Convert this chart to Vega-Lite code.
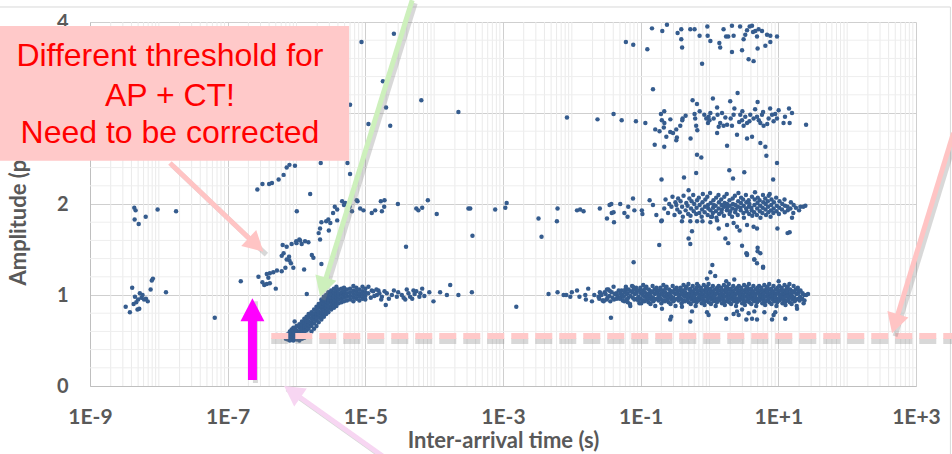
{
"$schema":"https://vega.github.io/schema/vega-lite/v6.json",
"width":826,"height":364,
"autosize":{"type":"none"},
"padding":{"left":90,"top":22,"right":36,"bottom":68},
"background":"white",
"config":{"view":{"stroke":null},"font":"Lato"},
"datasets":{
"minx":[{"t":2e-9},{"t":3e-9},{"t":4e-9},{"t":5e-9},{"t":6e-9},{"t":7e-9},{"t":8e-9},{"t":9e-9},{"t":1e-8},{"t":2e-8},{"t":3e-8},{"t":4e-8},{"t":5e-8},{"t":6e-8},{"t":7e-8},{"t":8e-8},{"t":9e-8},
{"t":2e-7},{"t":3e-7},{"t":4e-7},{"t":5e-7},{"t":6e-7},{"t":7e-7},{"t":8e-7},{"t":9e-7},{"t":1e-6},{"t":2e-6},{"t":3e-6},{"t":4e-6},{"t":5e-6},{"t":6e-6},{"t":7e-6},{"t":8e-6},{"t":9e-6},
{"t":2e-5},{"t":3e-5},{"t":4e-5},{"t":5e-5},{"t":6e-5},{"t":7e-5},{"t":8e-5},{"t":9e-5},{"t":1e-4},{"t":2e-4},{"t":3e-4},{"t":4e-4},{"t":5e-4},{"t":6e-4},{"t":7e-4},{"t":8e-4},{"t":9e-4},
{"t":0.002},{"t":0.003},{"t":0.004},{"t":0.005},{"t":0.006},{"t":0.007},{"t":0.008},{"t":0.009},{"t":0.01},{"t":0.02},{"t":0.03},{"t":0.04},{"t":0.05},{"t":0.06},{"t":0.07},{"t":0.08},{"t":0.09},
{"t":0.2},{"t":0.3},{"t":0.4},{"t":0.5},{"t":0.6},{"t":0.7},{"t":0.8},{"t":0.9},{"t":1},{"t":2},{"t":3},{"t":4},{"t":5},{"t":6},{"t":7},{"t":8},{"t":9},
{"t":20},{"t":30},{"t":40},{"t":50},{"t":60},{"t":70},{"t":80},{"t":90},{"t":100},{"t":200},{"t":300},{"t":400},{"t":500},{"t":600},{"t":700},{"t":800},{"t":900}],
"miny":[{"a":0.2},{"a":0.4},{"a":0.6},{"a":0.8},{"a":1.2},{"a":1.4},{"a":1.6},{"a":1.8},{"a":2.2},{"a":2.4},{"a":2.6},{"a":2.8},{"a":3.2},{"a":3.4},{"a":3.6},{"a":3.8}],
"pts":[
{"t":3.3e-9,"a":0.87},{"t":3.8e-9,"a":0.81},{"t":4.3e-9,"a":0.90},{"t":4.7e-9,"a":0.92},{"t":4.9e-9,"a":0.84},{"t":5.2e-9,"a":0.85},{"t":5.3e-9,"a":1.02},{"t":5.6e-9,"a":0.97},{"t":5.8e-9,"a":1.00},{"t":6.1e-9,"a":0.95},{"t":6.5e-9,"a":0.96},{"t":6.9e-9,"a":0.93},{"t":7.6e-9,"a":1.06},{"t":7.9e-9,"a":1.16},{"t":8.2e-9,"a":1.18},{"t":1.27e-8,"a":1.03},{"t":4.1e-9,"a":1.08},{"t":4.5e-9,"a":0.98},{"t":5.0e-9,"a":0.95},
{"t":4.4e-9,"a":1.96},{"t":4.6e-9,"a":1.93},{"t":4.45e-9,"a":1.83},{"t":5.1e-9,"a":1.78},{"t":6.45e-9,"a":1.86},{"t":9.6e-9,"a":1.94},{"t":1.78e-8,"a":1.92},{"t":6.5e-8,"a":0.75},{"t":1.55e-7,"a":1.15},
{"t":2.7e-7,"a":2.16},{"t":3.2e-7,"a":2.22},{"t":4.0e-7,"a":2.22},{"t":4.4e-7,"a":2.23},{"t":5.5e-7,"a":2.27},{"t":6.5e-7,"a":2.32},{"t":7.2e-7,"a":2.40},{"t":7.9e-7,"a":2.43},{"t":9.5e-7,"a":2.42},{"t":1.01e-6,"a":1.92},
{"t":6.3e-7,"a":1.55},{"t":8.5e-7,"a":1.56},{"t":9.9e-7,"a":1.59},{"t":1.1e-6,"a":1.61},{"t":6.1e-7,"a":1.43},{"t":7.2e-7,"a":1.39},{"t":7.8e-7,"a":1.42},{"t":8.3e-7,"a":1.35},{"t":9.0e-7,"a":1.30},{"t":6.9e-7,"a":1.30},{"t":6.1e-7,"a":1.26},{"t":5.2e-7,"a":1.27},{"t":4.6e-7,"a":1.25},{"t":4.1e-7,"a":1.24},{"t":3.7e-7,"a":1.23},{"t":2.8e-7,"a":1.20},{"t":3.2e-7,"a":1.14},{"t":3.4e-7,"a":1.11},{"t":3.7e-7,"a":1.12},{"t":4.1e-7,"a":1.13},{"t":3.9e-7,"a":1.19},{"t":5.0e-7,"a":1.07},{"t":9.4e-7,"a":0.71},{"t":5.2e-7,"a":0.56},
{"t":3.6e-6,"a":1.97},{"t":3.9e-6,"a":1.94},{"t":4.6e-6,"a":2.03},{"t":4.9e-6,"a":1.99},{"t":3.4e-6,"a":1.90},{"t":2.9e-6,"a":1.83},{"t":2.7e-6,"a":1.81},{"t":2.3e-6,"a":1.80},{"t":3.1e-6,"a":1.79},{"t":3.9e-6,"a":1.82},{"t":2.2e-6,"a":1.73},{"t":2.1e-6,"a":1.68},{"t":2.95e-6,"a":1.71},{"t":2.2e-6,"a":1.61},{"t":1.33e-6,"a":1.59},{"t":1.13e-6,"a":1.60},{"t":1.49e-6,"a":1.58},{"t":1.19e-6,"a":1.56},{"t":1.0e-6,"a":1.57},{"t":7.2e-7,"a":1.53},{"t":6.5e-7,"a":1.46},{"t":1.67e-6,"a":1.44},{"t":1.76e-6,"a":1.41},{"t":2.3e-6,"a":1.34},{"t":1.29e-6,"a":1.28},{"t":7.9e-7,"a":1.38},{"t":3.9e-5,"a":1.53},
{"t":7.5e-6,"a":2.04},{"t":7.7e-6,"a":2.03},{"t":8.4e-6,"a":1.95},{"t":9.4e-6,"a":1.93},{"t":6.4e-6,"a":1.92},{"t":5.9e-6,"a":1.97},{"t":5.1e-6,"a":2.01},{"t":1.24e-5,"a":1.90},{"t":1.39e-5,"a":1.93},{"t":1.74e-5,"a":1.92},{"t":1.88e-5,"a":1.97},{"t":1.68e-5,"a":2.03},{"t":1.9e-5,"a":2.04},{"t":2.97e-5,"a":2.00},{"t":5.5e-5,"a":1.95},{"t":5.9e-5,"a":1.93},{"t":6.7e-5,"a":1.96},{"t":8.1e-5,"a":2.04},{"t":1.09e-4,"a":1.89},{"t":3.15e-4,"a":1.95},
{"t":2.6e-5,"a":3.87},{"t":8.8e-6,"a":3.78},{"t":1.8e-5,"a":3.35},{"t":6.5e-5,"a":3.14},{"t":2.0e-5,"a":3.06},{"t":1.11e-5,"a":2.88},{"t":2.3e-5,"a":2.86},{"t":6.0e-6,"a":3.09},{"t":2.25e-4,"a":3.01},{"t":5.5e-6,"a":2.45},{"t":6.0e-6,"a":2.33},{"t":2.25e-6,"a":2.45},{"t":1.58e-6,"a":2.11},
{"t":7.0e-7,"a":0.52},{"t":7.0e-7,"a":0.55},
{"t":7.5e-7,"a":0.51},{"t":7.5e-7,"a":0.54},{"t":7.5e-7,"a":0.57},
{"t":8.0e-7,"a":0.50},{"t":8.0e-7,"a":0.53},{"t":8.0e-7,"a":0.56},{"t":8.0e-7,"a":0.60},
{"t":8.5e-7,"a":0.51},{"t":8.5e-7,"a":0.55},{"t":8.5e-7,"a":0.58},{"t":8.5e-7,"a":0.62},
{"t":9.0e-7,"a":0.50},{"t":9.0e-7,"a":0.53},{"t":9.0e-7,"a":0.57},{"t":9.0e-7,"a":0.60},{"t":9.0e-7,"a":0.64},
{"t":9.5e-7,"a":0.52},{"t":9.5e-7,"a":0.55},{"t":9.5e-7,"a":0.59},{"t":9.5e-7,"a":0.63},
{"t":1.0e-6,"a":0.51},{"t":1.0e-6,"a":0.54},{"t":1.0e-6,"a":0.58},{"t":1.0e-6,"a":0.61},{"t":1.0e-6,"a":0.66},
{"t":1.1e-6,"a":0.50},{"t":1.1e-6,"a":0.53},{"t":1.1e-6,"a":0.57},{"t":1.1e-6,"a":0.60},{"t":1.1e-6,"a":0.64},{"t":1.1e-6,"a":0.68},
{"t":1.2e-6,"a":0.52},{"t":1.2e-6,"a":0.56},{"t":1.2e-6,"a":0.60},{"t":1.2e-6,"a":0.63},{"t":1.2e-6,"a":0.67},{"t":1.2e-6,"a":0.71},
{"t":1.3e-6,"a":0.53},{"t":1.3e-6,"a":0.58},{"t":1.3e-6,"a":0.62},{"t":1.3e-6,"a":0.66},{"t":1.3e-6,"a":0.70},{"t":1.3e-6,"a":0.74},
{"t":1.4e-6,"a":0.55},{"t":1.4e-6,"a":0.61},{"t":1.4e-6,"a":0.65},{"t":1.4e-6,"a":0.69},{"t":1.4e-6,"a":0.72},{"t":1.4e-6,"a":0.76},
{"t":1.5e-6,"a":0.56},{"t":1.5e-6,"a":0.63},{"t":1.5e-6,"a":0.67},{"t":1.5e-6,"a":0.71},{"t":1.5e-6,"a":0.75},{"t":1.5e-6,"a":0.79},
{"t":1.65e-6,"a":0.60},{"t":1.65e-6,"a":0.66},{"t":1.65e-6,"a":0.70},{"t":1.65e-6,"a":0.74},{"t":1.65e-6,"a":0.78},{"t":1.65e-6,"a":0.81},
{"t":1.8e-6,"a":0.63},{"t":1.8e-6,"a":0.69},{"t":1.8e-6,"a":0.73},{"t":1.8e-6,"a":0.77},{"t":1.8e-6,"a":0.80},{"t":1.8e-6,"a":0.84},
{"t":1.95e-6,"a":0.66},{"t":1.95e-6,"a":0.72},{"t":1.95e-6,"a":0.76},{"t":1.95e-6,"a":0.80},{"t":1.95e-6,"a":0.83},{"t":1.95e-6,"a":0.87},
{"t":2.1e-6,"a":0.70},{"t":2.1e-6,"a":0.75},{"t":2.1e-6,"a":0.79},{"t":2.1e-6,"a":0.82},{"t":2.1e-6,"a":0.86},{"t":2.1e-6,"a":0.90},
{"t":2.3e-6,"a":0.73},{"t":2.3e-6,"a":0.77},{"t":2.3e-6,"a":0.81},{"t":2.3e-6,"a":0.85},{"t":2.3e-6,"a":0.88},{"t":2.3e-6,"a":0.92},{"t":2.3e-6,"a":0.95},
{"t":2.5e-6,"a":0.76},{"t":2.5e-6,"a":0.80},{"t":2.5e-6,"a":0.84},{"t":2.5e-6,"a":0.87},{"t":2.5e-6,"a":0.90},{"t":2.5e-6,"a":0.94},{"t":2.5e-6,"a":0.98},
{"t":2.7e-6,"a":0.79},{"t":2.7e-6,"a":0.82},{"t":2.7e-6,"a":0.86},{"t":2.7e-6,"a":0.89},{"t":2.7e-6,"a":0.93},{"t":2.7e-6,"a":0.96},{"t":2.7e-6,"a":1.00},
{"t":2.9e-6,"a":0.81},{"t":2.9e-6,"a":0.85},{"t":2.9e-6,"a":0.88},{"t":2.9e-6,"a":0.92},{"t":2.9e-6,"a":0.95},{"t":2.9e-6,"a":0.99},{"t":2.9e-6,"a":1.03},
{"t":3.2e-6,"a":0.84},{"t":3.2e-6,"a":0.87},{"t":3.2e-6,"a":0.90},{"t":3.2e-6,"a":0.94},{"t":3.2e-6,"a":0.97},{"t":3.2e-6,"a":1.01},{"t":3.2e-6,"a":1.05},
{"t":3.5e-6,"a":0.86},{"t":3.5e-6,"a":0.88},{"t":3.5e-6,"a":0.92},{"t":3.5e-6,"a":0.96},{"t":3.5e-6,"a":0.99},{"t":3.5e-6,"a":1.03},{"t":3.5e-6,"a":1.07},
{"t":3.8e-6,"a":0.88},{"t":3.8e-6,"a":0.90},{"t":3.8e-6,"a":0.94},{"t":3.8e-6,"a":0.97},{"t":3.8e-6,"a":1.01},{"t":3.8e-6,"a":1.05},{"t":3.8e-6,"a":1.09},
{"t":4.1e-6,"a":0.91},{"t":4.1e-6,"a":0.95},{"t":4.1e-6,"a":0.99},{"t":4.1e-6,"a":1.02},{"t":4.1e-6,"a":1.06},
{"t":4.5e-6,"a":0.92},{"t":4.5e-6,"a":0.96},{"t":4.5e-6,"a":1.00},{"t":4.5e-6,"a":1.03},{"t":4.5e-6,"a":1.07},
{"t":4.9e-6,"a":0.93},{"t":4.9e-6,"a":0.97},{"t":4.9e-6,"a":1.01},{"t":4.9e-6,"a":1.04},{"t":4.9e-6,"a":1.08},
{"t":5.4e-6,"a":0.94},{"t":5.4e-6,"a":0.98},{"t":5.4e-6,"a":1.02},{"t":5.4e-6,"a":1.06},
{"t":6.0e-6,"a":0.95},{"t":6.0e-6,"a":0.99},{"t":6.0e-6,"a":1.03},{"t":6.0e-6,"a":1.07},
{"t":6.7e-6,"a":0.93},{"t":6.7e-6,"a":0.97},{"t":6.7e-6,"a":1.01},{"t":6.7e-6,"a":1.05},{"t":6.7e-6,"a":1.10},
{"t":7.4e-6,"a":0.96},{"t":7.4e-6,"a":1.00},{"t":7.4e-6,"a":1.04},{"t":7.4e-6,"a":1.08},
{"t":8.2e-6,"a":0.94},{"t":8.2e-6,"a":0.98},{"t":8.2e-6,"a":1.02},{"t":8.2e-6,"a":1.06},
{"t":9.1e-6,"a":0.96},{"t":9.1e-6,"a":1.00},{"t":9.1e-6,"a":1.04},{"t":9.1e-6,"a":1.09},
{"t":1.0e-5,"a":0.95},{"t":1.0e-5,"a":0.99},{"t":1.0e-5,"a":1.03},{"t":1.0e-5,"a":1.07},
{"t":1.11e-5,"a":1.09},{"t":1.24e-5,"a":1.05},{"t":1.47e-5,"a":1.00},{"t":1.74e-5,"a":0.98},{"t":1.98e-5,"a":0.89},{"t":2.05e-5,"a":1.02},{"t":2.43e-5,"a":1.00},{"t":2.87e-5,"a":0.98},{"t":3.39e-5,"a":1.00},{"t":4.23e-5,"a":1.02},{"t":4.47e-5,"a":0.98},{"t":5.0e-5,"a":1.05},{"t":5.5e-5,"a":1.04},{"t":6.1e-5,"a":0.98},{"t":6.7e-5,"a":1.07},{"t":9.77e-5,"a":0.93},{"t":1.22e-4,"a":1.03},{"t":1.53e-4,"a":1.00},{"t":1.71e-4,"a":1.11},{"t":2.25e-4,"a":1.00},{"t":3.8e-5,"a":0.95},{"t":1.55e-5,"a":1.05},{"t":1.41e-6,"a":1.01},
{"t":1.1e-5,"a":1.02},{"t":1.2e-5,"a":0.97},{"t":1.3e-5,"a":1.04},{"t":1.35e-5,"a":0.99},{"t":1.45e-5,"a":1.06},{"t":1.6e-5,"a":1.02},{"t":1.7e-5,"a":0.95},{"t":1.9e-5,"a":1.04},{"t":2.2e-5,"a":0.96},{"t":2.6e-5,"a":1.05},{"t":3.0e-5,"a":1.03},{"t":3.6e-5,"a":0.97},{"t":4.0e-5,"a":1.06},{"t":4.8e-5,"a":0.96},{"t":5.2e-5,"a":1.01},{"t":6.3e-5,"a":1.02},{"t":7.2e-5,"a":0.99},{"t":8.5e-5,"a":1.03},
{"t":3.53e-4,"a":1.03},{"t":1.56e-3,"a":0.87},{"t":4.59e-3,"a":1.01},{"t":6.2e-3,"a":1.03},{"t":7.6e-3,"a":1.00},{"t":8.3e-3,"a":1.00},{"t":9.5e-3,"a":0.98},{"t":1.0e-2,"a":1.03},{"t":1.19e-2,"a":1.05},{"t":1.29e-2,"a":0.98},{"t":1.57e-2,"a":1.00},{"t":1.73e-2,"a":1.07},{"t":1.6e-2,"a":0.95},{"t":1.96e-2,"a":0.93},{"t":2.12e-2,"a":1.00},{"t":2.44e-2,"a":0.98},{"t":2.55e-2,"a":1.03},{"t":2.89e-2,"a":0.94},{"t":3.24e-2,"a":1.06},{"t":3.62e-2,"a":0.93},{"t":3.7e-2,"a":0.75},{"t":4.04e-2,"a":1.09},{"t":4.52e-2,"a":1.00},{"t":5.05e-2,"a":1.04},{"t":5.3e-2,"a":0.98},{"t":5.97e-2,"a":1.06},{"t":6.45e-2,"a":1.02},{"t":7.07e-2,"a":0.88},{"t":7.74e-2,"a":1.09},{"t":7.9e-2,"a":1.36},{"t":8.8e-2,"a":1.04},{"t":9.6e-2,"a":0.91},
{"t":3.34e-4,"a":1.95},{"t":3.6e-4,"a":1.65},{"t":7.7e-4,"a":1.94},{"t":1.08e-3,"a":1.96},{"t":1.13e-3,"a":2.01},{"t":3.28e-3,"a":1.84},{"t":3.63e-3,"a":1.64},{"t":6.07e-3,"a":1.81},{"t":6.2e-3,"a":1.95},{"t":1.19e-2,"a":1.93},{"t":1.32e-2,"a":1.94},{"t":1.48e-2,"a":1.92},{"t":2.55e-2,"a":1.95},{"t":3.24e-2,"a":1.84},{"t":3.53e-2,"a":1.99},{"t":3.75e-2,"a":2.00},{"t":3.8e-2,"a":1.90},{"t":4.04e-2,"a":1.91},{"t":4.1e-2,"a":1.80},{"t":5.05e-2,"a":2.00},{"t":5.8e-2,"a":1.90},{"t":6.45e-2,"a":1.86},{"t":6.6e-2,"a":1.97},{"t":7.74e-2,"a":2.06},{"t":8.1e-2,"a":1.93},{"t":0.104,"a":1.93},{"t":0.106,"a":1.89},{"t":0.135,"a":2.04},{"t":0.151,"a":1.99},{"t":0.169,"a":1.88},{"t":0.186,"a":1.55},{"t":0.201,"a":2.27},{"t":0.199,"a":1.81},{"t":0.203,"a":1.82},
{"t":8.5e-3,"a":2.95},{"t":2.36e-2,"a":2.93},{"t":4.04e-2,"a":2.99},{"t":5.3e-2,"a":2.92},{"t":8.54e-2,"a":2.91},{"t":0.117,"a":2.89},{"t":0.151,"a":3.26},{"t":0.163,"a":2.82},{"t":0.16,"a":2.65},{"t":0.188,"a":2.80},{"t":0.197,"a":2.99},{"t":0.203,"a":2.92},{"t":0.22,"a":3.02},{"t":0.217,"a":2.84},{"t":0.221,"a":2.89},{"t":0.22,"a":2.63},{"t":0.236,"a":2.74},{"t":0.269,"a":2.79},{"t":0.295,"a":2.78},{"t":0.329,"a":2.82},{"t":0.336,"a":2.73},{"t":0.329,"a":2.70},{"t":0.376,"a":2.86},{"t":0.406,"a":2.94},{"t":0.402,"a":2.92},{"t":0.531,"a":2.72},{"t":0.568,"a":3.14},{"t":0.607,"a":2.99},{"t":0.62,"a":2.94},{"t":0.658,"a":3.10},{"t":0.64,"a":2.86},{"t":0.665,"a":2.81},{"t":0.658,"a":2.54},{"t":0.76,"a":2.51},{"t":0.84,"a":2.98},{"t":0.898,"a":2.94},{"t":0.97,"a":2.96},{"t":0.95,"a":2.89},{"t":1.03,"a":3.00},{"t":1.12,"a":3.16},{"t":1.15,"a":2.94},{"t":1.29,"a":3.06},{"t":1.31,"a":2.98},{"t":1.36,"a":2.85},{"t":1.43,"a":2.89},{"t":1.52,"a":3.00},{"t":1.60,"a":2.86},{"t":1.80,"a":2.87},{"t":2.0,"a":3.13},{"t":2.03,"a":2.94},{"t":2.12,"a":2.86},{"t":2.24,"a":2.98},{"t":2.56,"a":3.22},{"t":2.80,"a":2.98},{"t":2.97,"a":2.92},{"t":3.13,"a":2.86},{"t":3.31,"a":2.96},{"t":3.51,"a":2.89},{"t":3.91,"a":2.98},{"t":4.37,"a":2.94},{"t":5.0,"a":3.12},{"t":4.9,"a":2.96},{"t":5.48,"a":2.89},{"t":5.79,"a":2.98},{"t":6.11,"a":2.86},{"t":6.48,"a":2.63},{"t":6.7,"a":2.53},{"t":7.23,"a":2.94},{"t":8.1,"a":2.98},{"t":8.54,"a":2.91},{"t":9.57,"a":2.94},{"t":10.1,"a":3.03},{"t":11.9,"a":2.89},{"t":14.6,"a":2.89},{"t":14.3,"a":3.05},{"t":15.8,"a":3.00},{"t":25.3,"a":2.87},{"t":5.48,"a":2.67},{"t":4.15,"a":2.74},{"t":2.51,"a":2.76},{"t":1.8,"a":2.64},{"t":3.51,"a":2.72},{"t":1.29,"a":2.78},{"t":0.78,"a":3.54},
{"t":1.7,"a":2.95},{"t":2.3,"a":3.05},{"t":2.7,"a":2.90},{"t":3.0,"a":3.02},{"t":3.8,"a":2.91},{"t":4.6,"a":3.04},{"t":5.2,"a":2.92},{"t":6.0,"a":3.01},{"t":6.9,"a":2.88},{"t":7.6,"a":3.05},{"t":9.0,"a":2.99},{"t":12.5,"a":2.96},{"t":1.0,"a":2.92},{"t":0.72,"a":3.02},{"t":0.45,"a":2.97},{"t":0.27,"a":2.93},
{"t":6.1e-2,"a":3.78},{"t":7.8e-2,"a":3.75},{"t":0.125,"a":3.70},{"t":0.146,"a":3.93},{"t":0.206,"a":3.90},{"t":0.241,"a":3.97},{"t":0.344,"a":3.88},{"t":0.389,"a":3.92},{"t":0.389,"a":3.81},{"t":0.40,"a":3.72},{"t":0.526,"a":3.92},{"t":0.607,"a":3.92},{"t":0.718,"a":3.85},{"t":0.93,"a":3.95},{"t":0.94,"a":3.85},{"t":1.03,"a":3.79},{"t":1.39,"a":3.77},{"t":1.43,"a":3.72},{"t":1.60,"a":3.92},{"t":1.74,"a":3.84},{"t":1.87,"a":3.84},{"t":2.12,"a":3.96},{"t":2.12,"a":3.67},{"t":2.24,"a":3.85},{"t":2.78,"a":3.95},{"t":2.97,"a":3.69},{"t":3.13,"a":3.81},{"t":3.31,"a":3.86},{"t":3.51,"a":3.91},{"t":3.70,"a":3.59},{"t":3.83,"a":3.95},{"t":4.15,"a":3.96},{"t":4.29,"a":3.89},{"t":4.37,"a":3.57},{"t":4.63,"a":3.90},{"t":4.9,"a":3.84},{"t":5.0,"a":3.71},{"t":5.17,"a":3.92},{"t":5.79,"a":3.90},{"t":6.48,"a":3.74},{"t":6.85,"a":3.86},{"t":7.65,"a":3.78},{"t":7.65,"a":3.85},{"t":9.57,"a":3.84},
{"t":0.398,"a":1.81},{"t":0.497,"a":2.15},{"t":0.426,"a":2.29},{"t":0.64,"a":2.34},{"t":0.557,"a":1.70},{"t":0.497,"a":1.62},{"t":0.526,"a":1.56},{"t":1.03,"a":1.80},{"t":1.36,"a":1.73},{"t":1.70,"a":1.62},{"t":1.87,"a":1.57},{"t":1.94,"a":2.37},{"t":2.20,"a":2.28},{"t":3.2,"a":2.35},{"t":2.97,"a":1.54},{"t":3.51,"a":1.45},{"t":4.48,"a":1.39},{"t":5.0,"a":1.52},{"t":5.48,"a":1.46},{"t":6.0,"a":1.30},{"t":7.5,"a":2.11},{"t":8.4,"a":2.27},{"t":9.57,"a":2.45},{"t":9.7,"a":1.73},{"t":13.6,"a":1.68},{"t":14.6,"a":1.69},{"t":15.8,"a":1.85},{"t":20.9,"a":1.97},{"t":24.7,"a":1.98},{"t":2.51,"a":1.75},{"t":4.37,"a":1.75},{"t":4.9,"a":1.73},{"t":3.51,"a":1.77},{"t":2.24,"a":1.79},{"t":1.8,"a":1.77},{"t":2.74,"a":1.71},{"t":1.29,"a":1.82},{"t":1.09,"a":1.86},{"t":0.79,"a":1.81},{"t":0.66,"a":1.81},{"t":0.526,"a":1.81},
{"t":0.22,"a":1.95},{"t":0.23,"a":2.05},{"t":0.25,"a":1.90},{"t":0.26,"a":2.00},{"t":0.28,"a":1.97},{"t":0.29,"a":2.08},{"t":0.31,"a":1.88},{"t":0.32,"a":2.02},{"t":0.34,"a":1.94},{"t":0.35,"a":2.06},{"t":0.33,"a":1.99},{"t":0.37,"a":1.91},{"t":0.38,"a":2.03},{"t":0.41,"a":1.86},{"t":0.40,"a":1.97},{"t":0.42,"a":2.09},{"t":0.45,"a":1.93},{"t":0.46,"a":2.01},{"t":0.49,"a":1.89},{"t":0.48,"a":1.98},{"t":0.51,"a":2.06},{"t":0.54,"a":1.95},{"t":0.55,"a":2.03},{"t":0.53,"a":1.87},{"t":0.59,"a":1.92},{"t":0.60,"a":2.00},{"t":0.58,"a":2.10},{"t":0.65,"a":1.96},{"t":0.66,"a":2.04},{"t":0.64,"a":1.89},{"t":0.71,"a":1.90},{"t":0.72,"a":1.99},{"t":0.70,"a":2.07},{"t":0.78,"a":1.94},{"t":0.79,"a":2.02},{"t":0.77,"a":1.86},{"t":0.80,"a":2.11},{"t":0.86,"a":1.97},{"t":0.87,"a":2.05},{"t":0.85,"a":1.91},{"t":0.94,"a":1.88},{"t":0.95,"a":1.99},{"t":0.93,"a":2.08},{"t":0.96,"a":1.95},
{"t":1.03,"a":1.93},{"t":1.04,"a":2.01},{"t":1.02,"a":2.12},{"t":1.05,"a":1.86},{"t":1.13,"a":1.96},{"t":1.14,"a":2.04},{"t":1.12,"a":1.90},{"t":1.15,"a":1.99},{"t":1.24,"a":1.92},{"t":1.25,"a":2.07},{"t":1.23,"a":1.98},{"t":1.26,"a":1.85},{"t":1.36,"a":1.95},{"t":1.37,"a":2.02},{"t":1.35,"a":2.10},{"t":1.38,"a":1.89},{"t":1.49,"a":1.91},{"t":1.50,"a":1.99},{"t":1.48,"a":2.05},{"t":1.51,"a":1.94},{"t":1.63,"a":1.97},{"t":1.64,"a":2.08},{"t":1.62,"a":1.87},{"t":1.66,"a":2.01},{"t":1.79,"a":1.93},{"t":1.80,"a":2.00},{"t":1.78,"a":2.11},{"t":1.82,"a":1.96},{"t":1.96,"a":1.89},{"t":1.97,"a":1.98},{"t":1.95,"a":2.04},{"t":1.99,"a":1.92},{"t":2.15,"a":1.95},{"t":2.17,"a":2.06},{"t":2.13,"a":1.86},{"t":2.19,"a":2.00},{"t":2.36,"a":1.91},{"t":2.38,"a":1.99},{"t":2.34,"a":2.09},{"t":2.40,"a":1.94},{"t":2.59,"a":1.97},{"t":2.61,"a":2.03},{"t":2.57,"a":1.88},{"t":2.63,"a":2.12},{"t":2.84,"a":1.93},{"t":2.86,"a":2.01},{"t":2.82,"a":1.96},{"t":2.88,"a":2.07},
{"t":3.11,"a":1.90},{"t":3.14,"a":1.98},{"t":3.08,"a":2.05},{"t":3.16,"a":1.85},{"t":3.41,"a":1.95},{"t":3.44,"a":2.02},{"t":3.38,"a":2.10},{"t":3.47,"a":1.92},{"t":3.74,"a":1.97},{"t":3.77,"a":1.89},{"t":3.71,"a":2.04},{"t":3.80,"a":2.00},{"t":4.1,"a":1.93},{"t":4.14,"a":2.08},{"t":4.06,"a":1.96},{"t":4.18,"a":1.87},{"t":4.5,"a":1.99},{"t":4.54,"a":2.05},{"t":4.46,"a":1.91},{"t":4.58,"a":2.13},{"t":4.93,"a":1.95},{"t":4.98,"a":2.01},{"t":4.88,"a":1.88},{"t":5.03,"a":2.07},{"t":5.4,"a":1.92},{"t":5.45,"a":1.98},{"t":5.35,"a":2.04},{"t":5.5,"a":1.85},{"t":5.92,"a":1.96},{"t":5.98,"a":2.10},{"t":5.86,"a":1.90},{"t":6.04,"a":2.02},{"t":6.5,"a":1.94},{"t":6.56,"a":2.00},{"t":6.44,"a":2.06},{"t":6.62,"a":1.88},{"t":7.1,"a":1.97},{"t":7.17,"a":1.91},{"t":7.03,"a":2.03},{"t":7.24,"a":2.09},{"t":7.8,"a":1.93},{"t":7.88,"a":1.99},{"t":7.72,"a":1.86},{"t":7.96,"a":2.05},
{"t":8.55,"a":1.95},{"t":8.64,"a":2.02},{"t":8.46,"a":1.90},{"t":9.4,"a":1.92},{"t":9.5,"a":1.98},{"t":9.3,"a":2.07},{"t":10.3,"a":1.96},{"t":10.4,"a":2.03},{"t":10.2,"a":1.89},{"t":11.3,"a":1.94},{"t":11.4,"a":2.00},{"t":12.4,"a":1.91},{"t":12.5,"a":1.98},{"t":12.3,"a":2.05},{"t":13.6,"a":1.97},{"t":13.7,"a":1.93},{"t":15,"a":1.95},{"t":15.2,"a":2.02},{"t":16.5,"a":1.90},{"t":16.7,"a":1.99},{"t":18,"a":1.96},{"t":20,"a":1.93},{"t":23,"a":1.97},
{"t":0.204,"a":0.85},{"t":0.269,"a":0.73},{"t":0.278,"a":0.76},{"t":0.398,"a":0.87},{"t":0.526,"a":0.71},{"t":0.557,"a":0.82},{"t":0.92,"a":0.81},{"t":0.97,"a":0.78},{"t":1.75,"a":0.74},{"t":2.24,"a":0.79},{"t":2.51,"a":0.82},{"t":2.65,"a":0.78},{"t":2.97,"a":0.84},{"t":3.43,"a":0.73},{"t":3.70,"a":0.80},{"t":4.15,"a":0.74},{"t":4.48,"a":0.82},{"t":4.9,"a":0.73},{"t":6.27,"a":0.81},{"t":8.1,"a":0.73},{"t":8.54,"a":0.78},{"t":9.04,"a":0.81},{"t":12.6,"a":0.74},{"t":18.7,"a":0.85},{"t":23.3,"a":0.91},
{"t":0.92,"a":1.18},{"t":1.03,"a":1.25},{"t":1.10,"a":1.33},{"t":1.21,"a":1.21},{"t":1.75,"a":1.15},{"t":2.29,"a":1.17},{"t":3.43,"a":1.46},{"t":3.51,"a":1.44},{"t":4.48,"a":1.39},{"t":4.9,"a":1.35},{"t":5.0,"a":1.48},{"t":6.0,"a":1.31},{"t":10.1,"a":1.15},{"t":0.66,"a":1.12},
{"t":0.025,"a":0.96},{"t":0.026,"a":1.02},{"t":0.027,"a":1.00},{"t":0.028,"a":0.94},{"t":0.029,"a":0.93},{"t":0.030,"a":1.03},{"t":0.031,"a":1.01},{"t":0.032,"a":0.95},{"t":0.033,"a":0.97},{"t":0.034,"a":1.06},{"t":0.035,"a":0.99},{"t":0.036,"a":1.04},{"t":0.038,"a":1.03},{"t":0.039,"a":0.97},{"t":0.041,"a":0.95},{"t":0.042,"a":1.01},{"t":0.044,"a":1.02},{"t":0.045,"a":0.96},{"t":0.047,"a":0.98},{"t":0.048,"a":1.05},{"t":0.05,"a":0.96},{"t":0.051,"a":1.02},
{"t":0.054,"a":1.00},{"t":0.055,"a":0.94},{"t":0.053,"a":1.05},{"t":0.058,"a":0.93},{"t":0.059,"a":1.03},{"t":0.057,"a":0.98},{"t":0.062,"a":1.01},{"t":0.063,"a":0.95},{"t":0.061,"a":1.09},{"t":0.066,"a":0.97},{"t":0.067,"a":1.06},{"t":0.065,"a":0.92},{"t":0.071,"a":0.99},{"t":0.072,"a":1.04},{"t":0.070,"a":0.90},{"t":0.076,"a":1.03},{"t":0.077,"a":0.97},{"t":0.075,"a":1.10},{"t":0.081,"a":0.95},{"t":0.082,"a":1.01},{"t":0.080,"a":1.06},{"t":0.087,"a":1.02},{"t":0.088,"a":0.96},{"t":0.086,"a":1.08},{"t":0.093,"a":0.98},{"t":0.094,"a":1.05},{"t":0.092,"a":0.94},
{"t":0.1,"a":0.96},{"t":0.101,"a":1.02},{"t":0.099,"a":1.08},{"t":0.102,"a":0.91},{"t":0.107,"a":1.00},{"t":0.108,"a":0.94},{"t":0.106,"a":1.05},{"t":0.109,"a":1.11},{"t":0.114,"a":0.93},{"t":0.115,"a":1.03},{"t":0.113,"a":0.98},{"t":0.116,"a":1.07},{"t":0.122,"a":1.01},{"t":0.123,"a":0.95},{"t":0.121,"a":1.09},{"t":0.124,"a":0.99},{"t":0.131,"a":0.97},{"t":0.132,"a":1.06},{"t":0.13,"a":0.92},{"t":0.133,"a":1.02},{"t":0.14,"a":0.99},{"t":0.141,"a":1.04},{"t":0.139,"a":0.90},{"t":0.142,"a":0.95},{"t":0.15,"a":1.03},{"t":0.151,"a":0.97},{"t":0.149,"a":1.10},{"t":0.153,"a":0.93},{"t":0.16,"a":0.95},{"t":0.161,"a":1.01},{"t":0.159,"a":1.06},{"t":0.163,"a":0.88},{"t":0.171,"a":1.02},{"t":0.172,"a":0.96},{"t":0.17,"a":1.08},{"t":0.174,"a":1.04},{"t":0.183,"a":0.98},{"t":0.184,"a":1.05},{"t":0.182,"a":0.94},{"t":0.186,"a":1.00},
{"t":0.196,"a":0.96},{"t":0.198,"a":1.02},{"t":0.194,"a":1.08},{"t":0.2,"a":0.91},{"t":0.21,"a":1.00},{"t":0.212,"a":0.94},{"t":0.208,"a":1.05},{"t":0.214,"a":1.11},{"t":0.225,"a":0.93},{"t":0.227,"a":1.03},{"t":0.223,"a":0.98},{"t":0.229,"a":1.07},{"t":0.24,"a":1.01},{"t":0.242,"a":0.95},{"t":0.238,"a":1.09},{"t":0.245,"a":0.99},{"t":0.257,"a":0.97},{"t":0.26,"a":1.06},{"t":0.255,"a":0.92},{"t":0.262,"a":1.02},{"t":0.275,"a":0.99},{"t":0.278,"a":1.04},{"t":0.272,"a":0.90},{"t":0.28,"a":0.95},{"t":0.295,"a":1.03},{"t":0.298,"a":0.97},{"t":0.292,"a":1.10},{"t":0.3,"a":0.93},{"t":0.315,"a":0.95},{"t":0.318,"a":1.01},{"t":0.312,"a":1.06},{"t":0.321,"a":0.88},{"t":0.337,"a":1.02},{"t":0.34,"a":0.96},{"t":0.334,"a":1.08},{"t":0.343,"a":1.04},{"t":0.36,"a":0.98},{"t":0.364,"a":1.05},{"t":0.356,"a":0.94},{"t":0.367,"a":1.00},{"t":0.385,"a":0.96},{"t":0.389,"a":1.02},{"t":0.381,"a":1.08},{"t":0.393,"a":0.91},{"t":0.412,"a":1.00},{"t":0.416,"a":0.94},{"t":0.408,"a":1.05},{"t":0.42,"a":1.11},{"t":0.44,"a":0.93},{"t":0.444,"a":1.03},{"t":0.436,"a":0.98},{"t":0.449,"a":1.07},{"t":0.47,"a":1.01},{"t":0.475,"a":0.95},{"t":0.465,"a":1.09},{"t":0.48,"a":0.99},
{"t":0.505,"a":0.97},{"t":0.51,"a":1.06},{"t":0.5,"a":0.92},{"t":0.515,"a":1.02},{"t":0.495,"a":1.12},{"t":0.54,"a":0.99},{"t":0.545,"a":1.04},{"t":0.535,"a":0.90},{"t":0.55,"a":0.95},{"t":0.53,"a":1.07},{"t":0.578,"a":1.03},{"t":0.584,"a":0.97},{"t":0.572,"a":1.10},{"t":0.59,"a":0.93},{"t":0.566,"a":1.00},{"t":0.618,"a":0.95},{"t":0.624,"a":1.01},{"t":0.612,"a":1.06},{"t":0.63,"a":0.88},{"t":0.606,"a":0.98},{"t":0.661,"a":1.02},{"t":0.668,"a":0.96},{"t":0.654,"a":1.08},{"t":0.675,"a":1.04},{"t":0.647,"a":0.92},{"t":0.707,"a":0.98},{"t":0.714,"a":1.05},{"t":0.7,"a":0.94},{"t":0.721,"a":1.00},{"t":0.693,"a":1.10},
{"t":0.757,"a":0.96},{"t":0.765,"a":1.02},{"t":0.749,"a":1.08},{"t":0.772,"a":0.91},{"t":0.742,"a":0.99},{"t":0.81,"a":1.00},{"t":0.818,"a":0.94},{"t":0.802,"a":1.05},{"t":0.826,"a":1.11},{"t":0.794,"a":0.97},{"t":0.866,"a":0.93},{"t":0.875,"a":1.03},{"t":0.857,"a":0.98},{"t":0.883,"a":1.07},{"t":0.849,"a":0.89},{"t":0.927,"a":1.01},{"t":0.936,"a":0.95},{"t":0.918,"a":1.09},{"t":0.945,"a":0.99},{"t":0.909,"a":1.04},{"t":0.99,"a":0.97},{"t":1.0,"a":1.06},{"t":0.98,"a":0.92},{"t":1.01,"a":1.02},{"t":0.97,"a":1.12},
{"t":1.06,"a":0.99},{"t":1.07,"a":1.04},{"t":1.05,"a":0.90},{"t":1.08,"a":0.95},{"t":1.04,"a":1.07},{"t":1.13,"a":1.03},{"t":1.14,"a":0.97},{"t":1.12,"a":1.10},{"t":1.15,"a":0.93},{"t":1.11,"a":1.00},{"t":1.21,"a":0.95},{"t":1.22,"a":1.01},{"t":1.2,"a":1.06},{"t":1.23,"a":0.88},{"t":1.19,"a":0.98},{"t":1.3,"a":1.02},{"t":1.31,"a":0.96},{"t":1.29,"a":1.08},{"t":1.32,"a":1.04},{"t":1.28,"a":0.92},{"t":1.39,"a":0.98},{"t":1.4,"a":1.05},{"t":1.38,"a":0.94},{"t":1.42,"a":1.00},{"t":1.36,"a":1.10},
{"t":1.49,"a":0.96},{"t":1.5,"a":1.02},{"t":1.48,"a":1.08},{"t":1.52,"a":0.91},{"t":1.46,"a":0.99},{"t":1.59,"a":1.00},{"t":1.6,"a":0.94},{"t":1.58,"a":1.05},{"t":1.62,"a":1.11},{"t":1.56,"a":0.97},{"t":1.7,"a":0.93},{"t":1.72,"a":1.03},{"t":1.68,"a":0.98},{"t":1.73,"a":1.07},{"t":1.67,"a":0.89},{"t":1.82,"a":1.01},{"t":1.84,"a":0.95},{"t":1.8,"a":1.09},{"t":1.86,"a":0.99},{"t":1.78,"a":1.04},{"t":1.95,"a":0.97},{"t":1.97,"a":1.06},{"t":1.93,"a":0.92},{"t":1.99,"a":1.02},{"t":1.91,"a":1.12},
{"t":2.08,"a":0.99},{"t":2.1,"a":1.04},{"t":2.06,"a":0.90},{"t":2.12,"a":0.95},{"t":2.04,"a":1.07},{"t":2.23,"a":1.03},{"t":2.25,"a":0.97},{"t":2.21,"a":1.10},{"t":2.27,"a":0.93},{"t":2.19,"a":1.00},{"t":2.38,"a":0.95},{"t":2.41,"a":1.01},{"t":2.35,"a":1.06},{"t":2.43,"a":0.88},{"t":2.33,"a":0.98},{"t":2.55,"a":1.02},{"t":2.58,"a":0.96},{"t":2.52,"a":1.08},{"t":2.6,"a":1.04},{"t":2.5,"a":0.92},{"t":2.73,"a":0.98},{"t":2.76,"a":1.05},{"t":2.7,"a":0.94},{"t":2.79,"a":1.00},{"t":2.67,"a":1.10},
{"t":2.92,"a":0.96},{"t":2.95,"a":1.02},{"t":2.89,"a":1.08},{"t":2.98,"a":0.91},{"t":2.86,"a":0.99},{"t":3.12,"a":1.00},{"t":3.15,"a":0.94},{"t":3.09,"a":1.05},{"t":3.18,"a":1.11},{"t":3.06,"a":0.97},{"t":3.34,"a":0.93},{"t":3.37,"a":1.03},{"t":3.31,"a":0.98},{"t":3.41,"a":1.07},{"t":3.27,"a":0.89},{"t":3.57,"a":1.01},{"t":3.61,"a":0.95},{"t":3.53,"a":1.09},{"t":3.64,"a":0.99},{"t":3.5,"a":1.04},{"t":3.82,"a":0.97},{"t":3.86,"a":1.06},{"t":3.78,"a":0.92},{"t":3.9,"a":1.02},{"t":3.74,"a":1.12},
{"t":4.09,"a":0.99},{"t":4.13,"a":1.04},{"t":4.05,"a":0.90},{"t":4.17,"a":0.95},{"t":4.01,"a":1.07},{"t":4.38,"a":1.03},{"t":4.42,"a":0.97},{"t":4.34,"a":1.10},{"t":4.47,"a":0.93},{"t":4.29,"a":1.00},{"t":4.68,"a":0.95},{"t":4.73,"a":1.01},{"t":4.63,"a":1.06},{"t":4.77,"a":0.88},{"t":4.59,"a":0.98},{"t":5.01,"a":1.02},{"t":5.06,"a":0.96},{"t":4.96,"a":1.08},{"t":5.11,"a":1.04},{"t":4.91,"a":0.92},{"t":5.36,"a":0.98},{"t":5.41,"a":1.05},{"t":5.31,"a":0.94},{"t":5.47,"a":1.00},{"t":5.25,"a":1.10},
{"t":5.73,"a":0.96},{"t":5.79,"a":1.02},{"t":5.67,"a":1.08},{"t":5.85,"a":0.91},{"t":5.62,"a":0.99},{"t":6.13,"a":1.00},{"t":6.19,"a":0.94},{"t":6.07,"a":1.05},{"t":6.25,"a":1.11},{"t":6.01,"a":0.97},{"t":6.56,"a":0.93},{"t":6.63,"a":1.03},{"t":6.49,"a":0.98},{"t":6.69,"a":1.07},{"t":6.43,"a":0.89},{"t":7.02,"a":1.01},{"t":7.09,"a":0.95},{"t":6.95,"a":1.09},{"t":7.16,"a":0.99},{"t":6.88,"a":1.04},{"t":7.51,"a":0.97},{"t":7.59,"a":1.06},{"t":7.44,"a":0.92},{"t":7.66,"a":1.02},{"t":7.36,"a":1.12},
{"t":8.04,"a":0.99},{"t":8.12,"a":1.04},{"t":7.96,"a":0.90},{"t":8.2,"a":0.95},{"t":7.88,"a":1.07},{"t":8.6,"a":1.03},{"t":8.69,"a":0.97},{"t":8.51,"a":1.10},{"t":8.77,"a":0.93},{"t":8.43,"a":1.00},{"t":9.2,"a":0.95},{"t":9.29,"a":1.01},{"t":9.11,"a":1.06},{"t":9.38,"a":0.88},{"t":9.02,"a":0.98},{"t":9.84,"a":1.02},{"t":9.94,"a":0.96},{"t":9.74,"a":1.08},{"t":10.04,"a":1.04},{"t":9.64,"a":0.92},{"t":10.5,"a":0.98},{"t":10.6,"a":1.05},{"t":10.4,"a":0.94},{"t":10.7,"a":1.00},{"t":10.3,"a":1.10},
{"t":11.3,"a":0.96},{"t":11.4,"a":1.02},{"t":11.2,"a":1.08},{"t":11.5,"a":0.91},{"t":11.1,"a":0.99},{"t":12.1,"a":1.00},{"t":12.2,"a":0.94},{"t":12.0,"a":1.05},{"t":12.3,"a":1.11},{"t":11.9,"a":0.97},{"t":12.9,"a":0.93},{"t":13.0,"a":1.03},{"t":12.8,"a":0.98},{"t":13.2,"a":1.07},{"t":12.7,"a":0.89},{"t":13.8,"a":1.01},{"t":13.9,"a":0.95},{"t":13.7,"a":1.09},{"t":14.1,"a":0.99},{"t":13.6,"a":1.04},{"t":14.8,"a":0.97},{"t":14.9,"a":1.06},{"t":14.7,"a":0.92},{"t":15.1,"a":1.02},{"t":14.5,"a":1.12},
{"t":15.8,"a":0.99},{"t":16.0,"a":1.04},{"t":15.6,"a":0.90},{"t":16.2,"a":0.95},{"t":16.9,"a":1.03},{"t":17.1,"a":0.97},{"t":16.7,"a":1.10},{"t":17.3,"a":0.93},{"t":18.1,"a":0.95},{"t":18.3,"a":1.01},{"t":17.9,"a":1.06},{"t":18.5,"a":0.88},{"t":19.4,"a":1.02},{"t":19.6,"a":0.96},{"t":19.2,"a":1.08},{"t":19.8,"a":1.04},{"t":20.7,"a":0.98},{"t":21.0,"a":1.05},{"t":20.4,"a":0.94},{"t":22.2,"a":0.96},{"t":22.5,"a":1.02},{"t":23.7,"a":1.00},{"t":24.0,"a":0.94},{"t":25.4,"a":1.00},{"t":27,"a":1.01}
],
"arrows":[
{"id":"p1","t1":1.45e-8,"a1":2.45,"t2":2.59e-7,"a2":1.55,"t3":3.3e-7,"a3":1.476},
{"id":"green","t1":4.79e-5,"a1":4.24,"t2":2.44e-6,"a2":1.086,"t3":2.2e-6,"a3":0.981},
{"id":"bottom","t1":1.94e-5,"a1":-0.79,"t2":8.66e-7,"a2":-0.064,"t3":6.61e-7,"a3":0.0},
{"id":"right","t1":3500,"a1":2.78,"t2":495,"a2":0.685,"t3":449,"a3":0.579},
{"id":"mag","t1":2.29e-7,"a1":0.066,"t2":2.29e-7,"a2":0.78,"t3":2.29e-7,"a3":0.964}
],
"thr":[{"t1":4.3e-7,"t2":3500,"a":0.55}],
"frame":[{"t1":4.6e-11,"t2":3162,"a1":4.165,"a2":-0.9}],
"box":[{"t1":4.6e-11,"t2":5.81e-6,"a1":3.956,"a2":2.475}],
"notes":[
{"txt":"Different threshold for","t":1.45e-8,"a":3.516},
{"txt":"AP + CT!","t":1.45e-8,"a":3.077},
{"txt":"Need to be corrected","t":1.45e-8,"a":2.670}
]
},
"layer":[
{"data":{"name":"minx"},
 "mark":{"type":"rule","color":"#EAEAEA","strokeWidth":1},
 "encoding":{"x":{"field":"t","type":"quantitative"}}},
{"data":{"name":"miny"},
 "mark":{"type":"rule","color":"#EEEEEE","strokeWidth":1},
 "encoding":{"y":{"field":"a","type":"quantitative"}}},
{"data":{"name":"pts"},
 "mark":{"type":"circle","size":20,"color":"#355C8E","opacity":1},
 "encoding":{
  "x":{"field":"t","type":"quantitative","scale":{"type":"log","domain":[1e-9,1000],"nice":false},
   "axis":{"title":"Inter-arrival time (s)",
    "values":[1e-9,1e-7,1e-5,0.001,0.1,10,1000],
    "labelExpr":"'1E' + (round(log(datum.value)/LN10) >= 0 ? '+' : '') + round(log(datum.value)/LN10)",
    "grid":true,"gridColor":"#CFCFCF","gridWidth":1,
    "ticks":false,"domainColor":"#BFBFBF","domainWidth":1,
    "labelFont":"Lato","labelFontWeight":"bold","labelFontSize":21,"labelColor":"#595959","labelPadding":20,
    "labelOverlap":false,"labelBound":false,"labelFlush":false,
    "titleFont":"Lato","titleFontWeight":"bold","titleFontSize":22,"titleColor":"#595959","titleBaseline":"alphabetic","titleY":61}},
  "y":{"field":"a","type":"quantitative","scale":{"domain":[0,4],"nice":false,"zero":false},
   "axis":{"title":"Amplitude (p.e.)",
    "values":[0,1,2,3,4],
    "format":"d",
    "labelExpr":"datum.value == 3 ? '' : datum.label",
    "grid":true,"gridColor":"#CFCFCF","gridWidth":1,
    "ticks":false,"domainColor":"#BFBFBF","domainWidth":1,
    "labelFont":"Lato","labelFontWeight":"bold","labelFontSize":20,"labelColor":"#595959","labelPadding":22,
    "labelOverlap":false,"labelBound":false,
    "titleFont":"Lato","titleFontWeight":"bold","titleFontSize":22,"titleColor":"#595959","titleAngle":270,"titleBaseline":"alphabetic","titleX":-65,"titleY":186}}
 }},
{"data":{"name":"frame"},
 "mark":{"type":"rect","filled":false,"color":"#D9D9D9","strokeWidth":1},
 "encoding":{"x":{"field":"t1","type":"quantitative"},"x2":{"field":"t2"},"y":{"field":"a1","type":"quantitative"},"y2":{"field":"a2"}}},
{"data":{"name":"thr"},
 "mark":{"type":"rule","color":"#7F7F7F","opacity":0.3,"strokeWidth":6,"strokeDash":[17,7],"yOffset":5},
 "encoding":{"x":{"field":"t1","type":"quantitative"},"x2":{"field":"t2"},"y":{"field":"a","type":"quantitative"}}},
{"data":{"name":"thr"},
 "mark":{"type":"rule","color":"#FFC9C9","strokeWidth":6,"strokeDash":[17,7]},
 "encoding":{"x":{"field":"t1","type":"quantitative"},"x2":{"field":"t2"},"y":{"field":"a","type":"quantitative"}}},
{"data":{"name":"arrows"},
 "mark":{"type":"rule","color":"#7F7F7F","opacity":0.3,"strokeWidth":5,"xOffset":3,"x2Offset":3,"yOffset":3,"y2Offset":3},
 "encoding":{"x":{"field":"t1","type":"quantitative"},"x2":{"field":"t3"},"y":{"field":"a1","type":"quantitative"},"y2":{"field":"a3"}}},
{"data":{"name":"arrows"},
 "transform":[{"filter":"datum.id != 'mag'"}],
 "mark":{"type":"rule","strokeWidth":5},
 "encoding":{"x":{"field":"t1","type":"quantitative"},"x2":{"field":"t2"},"y":{"field":"a1","type":"quantitative"},"y2":{"field":"a2"},
  "color":{"field":"id","type":"nominal","legend":null,"scale":{"domain":["p1","green","bottom","right"],"range":["#FFC4C4","#CDF0BC","#F7D6F2","#FFC4C4"]}}}},
{"data":{"name":"arrows"},
 "transform":[{"filter":"datum.id == 'mag'"}],
 "mark":{"type":"rule","strokeWidth":9,"color":"#FF00FF"},
 "encoding":{"x":{"field":"t1","type":"quantitative"},"x2":{"field":"t2"},"y":{"field":"a1","type":"quantitative"},"y2":{"field":"a2"}}},
{"data":{"name":"arrows"},
 "transform":[{"filter":"datum.id == 'p1'"}],
 "mark":{"type":"point","shape":"M0,0L-0.55,1L0.55,1Z","size":1600,"angle":133,"filled":true,"color":"#FFC4C4","opacity":1},
 "encoding":{"x":{"field":"t3","type":"quantitative"},"y":{"field":"a3","type":"quantitative"}}},
{"data":{"name":"arrows"},
 "transform":[{"filter":"datum.id == 'green'"}],
 "mark":{"type":"point","shape":"M0,0L-0.55,1L0.55,1Z","size":1600,"angle":197,"filled":true,"color":"#CDF0BC","opacity":1},
 "encoding":{"x":{"field":"t3","type":"quantitative"},"y":{"field":"a3","type":"quantitative"}}},
{"data":{"name":"arrows"},
 "transform":[{"filter":"datum.id == 'bottom'"}],
 "mark":{"type":"point","shape":"M0,0L-0.55,1L0.55,1Z","size":1600,"angle":305,"filled":true,"color":"#F7D6F2","opacity":1},
 "encoding":{"x":{"field":"t3","type":"quantitative"},"y":{"field":"a3","type":"quantitative"}}},
{"data":{"name":"arrows"},
 "transform":[{"filter":"datum.id == 'right'"}],
 "mark":{"type":"point","shape":"M0,0L-0.55,1L0.55,1Z","size":1600,"angle":197,"filled":true,"color":"#FFC4C4","opacity":1},
 "encoding":{"x":{"field":"t3","type":"quantitative"},"y":{"field":"a3","type":"quantitative"}}},
{"data":{"name":"arrows"},
 "transform":[{"filter":"datum.id == 'mag'"}],
 "mark":{"type":"point","shape":"M0,0L-0.52,1L0.52,1Z","size":2116,"angle":0,"filled":true,"color":"#FF00FF","opacity":1},
 "encoding":{"x":{"field":"t3","type":"quantitative"},"y":{"field":"a3","type":"quantitative"}}},
{"data":{"name":"box"},
 "mark":{"type":"rect","color":"#FFC9C9","opacity":1},
 "encoding":{"x":{"field":"t1","type":"quantitative"},"x2":{"field":"t2"},"y":{"field":"a1","type":"quantitative"},"y2":{"field":"a2"}}},
{"data":{"name":"notes"},
 "mark":{"type":"text","font":"Liberation Sans","fontSize":32,"color":"#FF0000","align":"center","baseline":"alphabetic"},
 "encoding":{"x":{"field":"t","type":"quantitative"},"y":{"field":"a","type":"quantitative"},"text":{"field":"txt"}}}
]
}
